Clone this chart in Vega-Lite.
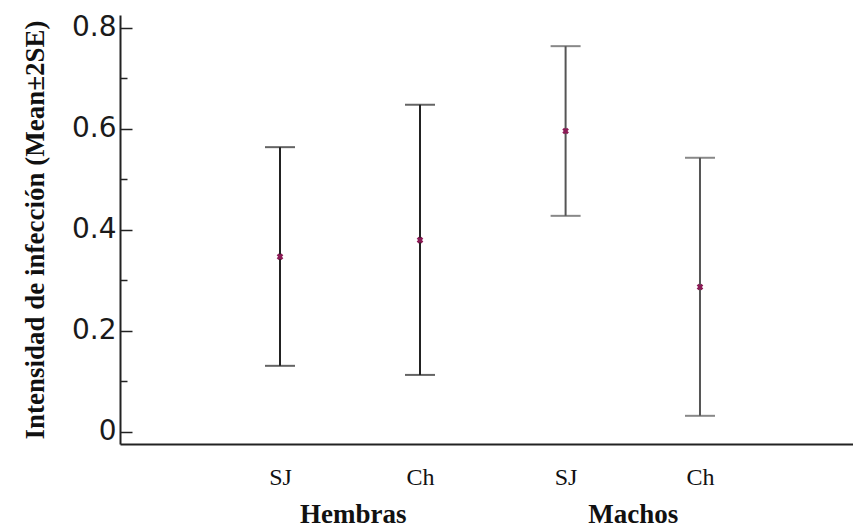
{
  "$schema": "https://vega.github.io/schema/vega-lite/v6.json",
  "width": 733,
  "height": 429,
  "autosize": {"type": "none"},
  "padding": {"left": 120, "top": 15, "right": 0, "bottom": 85},
  "background": "white",
  "config": {"view": {"stroke": null}},
  "data": {"values": [
    {"sexo": "Hembras", "sitio": "SJ", "pos": 1, "mean": 0.347, "lower": 0.131, "upper": 0.564},
    {"sexo": "Hembras", "sitio": "Ch", "pos": 2, "mean": 0.380, "lower": 0.113, "upper": 0.648},
    {"sexo": "Machos", "sitio": "SJ", "pos": 3.04, "mean": 0.596, "lower": 0.428, "upper": 0.764},
    {"sexo": "Machos", "sitio": "Ch", "pos": 4, "mean": 0.287, "lower": 0.032, "upper": 0.543}
  ]},
  "encoding": {
    "x": {
      "field": "pos", "type": "quantitative",
      "scale": {"domain": [-0.143, 5.093], "nice": false, "zero": false},
      "axis": {
        "title": null, "grid": false, "ticks": false,
        "values": [1, 1.52, 2, 3.04, 3.52, 4],
        "labelExpr": "datum.value == 1 || datum.value == 3.04 ? 'SJ' : datum.value == 2 || datum.value == 4 ? 'Ch' : datum.value == 1.52 ? 'Hembras' : 'Machos'",
        "labelFont": "Liberation Serif", "labelColor": "#111",
        "labelFontSize": {"condition": {"test": "datum.value == 1.52 || datum.value == 3.52", "value": 27}, "value": 24},
        "labelFontWeight": {"condition": {"test": "datum.value == 1.52 || datum.value == 3.52", "value": "bold"}, "value": "normal"},
        "labelPadding": {"condition": {"test": "datum.value == 1.52 || datum.value == 3.52", "value": 57}, "value": 21},
        "labelBaseline": "top", "labelFlush": false, "labelOverlap": false,
        "domainColor": "#222", "domainWidth": 2
      }
    }
  },
  "layer": [
    {
      "mark": {"type": "rule", "strokeWidth": 2},
      "encoding": {
        "y": {
          "field": "lower", "type": "quantitative",
          "scale": {"domain": [-0.0238, 0.8257], "nice": false, "zero": false},
          "axis": {
            "title": "Intensidad de infección (Mean±2SE)",
            "titleFont": "Liberation Serif", "titleFontSize": 27, "titleFontWeight": "bold", "titleColor": "#111",
            "titlePadding": 22,
            "grid": false,
            "values": [0, 0.05, 0.1, 0.15, 0.2, 0.25, 0.3, 0.35, 0.4, 0.45, 0.5, 0.55, 0.6, 0.65, 0.7, 0.75, 0.8],
            "labelExpr": "round(datum.value*20) % 4 == 0 ? (round(datum.value*20) == 0 ? '0' : format(datum.value, '.1f')) : ''",
            "labelFont": "DejaVu Sans", "labelFontSize": 28, "labelColor": "#1a1a1a",
            "labelPadding": 16,
            "tickSize": {"condition": {"test": "round(datum.value*20) % 4 == 0", "value": -12}, "value": -7},
            "tickColor": "#222", "tickWidth": 1.5,
            "domainColor": "#222", "domainWidth": 2,
            "labelOverlap": false, "labelFlush": false
          }
        },
        "y2": {"field": "upper"},
        "color": {"field": "sexo", "type": "nominal", "scale": {"domain": ["Hembras", "Machos"], "range": ["#222222", "#555555"]}, "legend": null}
      }
    },
    {
      "mark": {"type": "tick", "orient": "horizontal", "size": 30, "thickness": 2},
      "encoding": {
        "y": {"field": "upper", "type": "quantitative"},
        "color": {"field": "sexo", "type": "nominal", "legend": null}
      }
    },
    {
      "mark": {"type": "tick", "orient": "horizontal", "size": 30, "thickness": 2},
      "encoding": {
        "y": {"field": "lower", "type": "quantitative"},
        "color": {"field": "sexo", "type": "nominal", "legend": null}
      }
    },
    {
      "mark": {"type": "point", "shape": "cross", "angle": 45, "size": 45, "filled": true, "color": "#8b1a55", "opacity": 1},
      "encoding": {
        "y": {"field": "mean", "type": "quantitative"}
      }
    }
  ]
}
